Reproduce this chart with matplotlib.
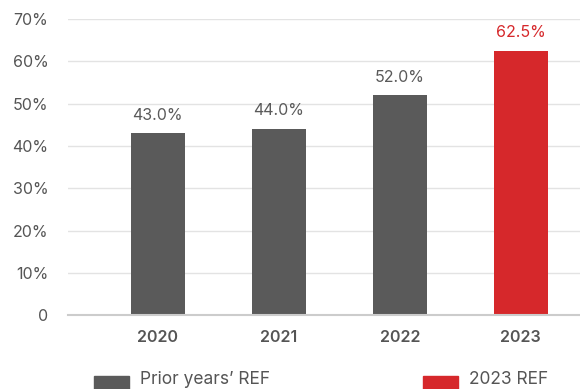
import matplotlib.pyplot as plt
import matplotlib.patches as mpatches

years = ["2020", "2021", "2022", "2023"]
values = [43.0, 44.0, 52.0, 62.5]
colors = ["#5a5a5a", "#5a5a5a", "#5a5a5a", "#d6282b"]
label_colors = ["#5a5a5a", "#5a5a5a", "#5a5a5a", "#d6282b"]
yticks = [0, 10, 20, 30, 40, 50, 60, 70]
ytick_labels = ["0", "10%", "20%", "30%", "40%", "50%", "60%", "70%"]

plt.rcParams["font.family"] = ["Inter", "DejaVu Sans"]

fig = plt.figure(figsize=(5.8, 3.89), dpi=100)
ax = fig.add_axes([0.117, 0.19, 0.883, 0.761])

x = range(len(years))
ax.bar(x, values, width=0.446, color=colors, zorder=3)
for xi, v, c in zip(x, values, label_colors):
    ax.text(xi, v + 2.5, f"{v:.1f}%", ha="center", va="bottom", fontsize=11.5, color=c)

ax.set_xlim(-0.744, 3.49)
ax.set_ylim(0, 70)
ax.set_yticks(yticks)
ax.set_yticklabels(ytick_labels, fontsize=11.5, color="#555555")
ax.set_xticks(list(x))
ax.set_xticklabels(years, fontsize=11.5, fontweight="semibold", color="#555555")
ax.tick_params(axis="both", length=0)
ax.tick_params(axis="y", pad=14)
ax.tick_params(axis="x", pad=11)
ax.grid(axis="y", color="#e3e3e3", linewidth=1, zorder=0)
for s in ["top", "right", "left"]:
    ax.spines[s].set_visible(False)
ax.spines["bottom"].set_color("#cccccc")
ax.spines["bottom"].set_linewidth(1.5)
ax.spines["bottom"].set_zorder(4)

# legend at bottom
fig.patches.append(mpatches.Rectangle((94 / 580, 0.0), 35 / 580, 13 / 389,
                                      transform=fig.transFigure, color="#5a5a5a"))
fig.text(140 / 580, 0.025, "Prior years\u2019 REF", fontsize=12.5, color="#555555", va="center")
fig.patches.append(mpatches.Rectangle((423 / 580, 0.0), 35 / 580, 13 / 389,
                                      transform=fig.transFigure, color="#d6282b"))
fig.text(469 / 580, 0.025, "2023 REF", fontsize=12.5, color="#555555", va="center")

fig.savefig("out.png", dpi=100)
